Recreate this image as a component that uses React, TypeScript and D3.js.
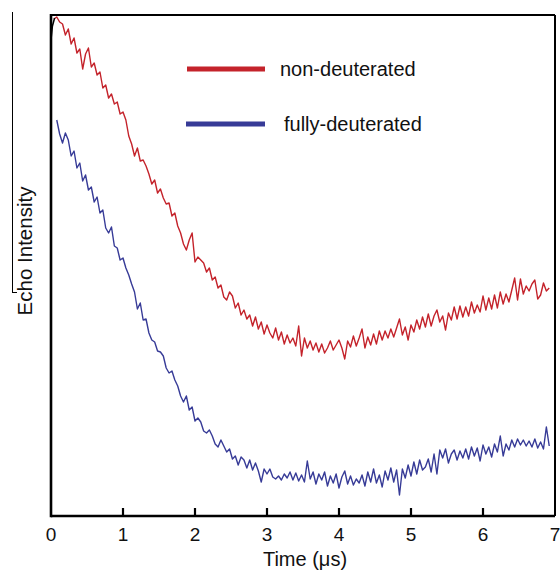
import React from "react";
import * as d3 from "d3";

// Sampling grid (μs)
const T_STEP = 0.04;
const RED_START_INDEX = 1; // t = 0.04
const BLUE_START_INDEX = 2; // t = 0.08

const xTicks = [0, 1, 2, 3, 4, 5, 6, 7];
const seriesNames = ["non-deuterated", "fully-deuterated"];

// Echo intensity (arbitrary units)
const nonDeuterated = [
  497, 499, 494, 492, 481, 487, 472, 478, 463, 467, 447, 462, 468, 449, 453, 441, 444, 428, 431, 418,
  422, 412, 414, 402, 404, 396, 380, 372, 360, 368, 355, 356, 350, 342, 332, 336, 323, 327, 318, 312,
  313, 300, 303, 290, 283, 272, 266, 276, 283, 254, 259, 256, 253, 244, 248, 236, 239, 228, 231, 219,
  216, 224, 220, 208, 213, 201, 206, 197, 201, 190, 199, 187, 194, 182, 191, 183, 178, 188, 176, 184,
  172, 181, 173, 178, 170, 190, 160, 178, 168, 175, 166, 173, 164, 172, 163, 168, 175, 166, 171, 176,
  168, 157, 175, 169, 180, 170, 178, 187, 168, 179, 171, 182, 172, 185, 176, 185, 178, 187, 179, 188,
  197, 181, 189, 176, 191, 184, 196, 187, 199, 189, 202, 190, 200, 206, 194, 200, 186, 203, 196, 209,
  197, 210, 199, 209, 200, 214, 203, 211, 204, 220, 206, 218, 207, 221, 208, 224, 212, 222, 214, 226,
  238, 216, 237, 222, 230, 225, 232, 236, 217, 221, 233, 225, 228,
];

const fullyDeuterated = [
  396, 382, 373, 383, 376, 360, 365, 348, 353, 335, 341, 326, 329, 314, 319, 303, 306, 288, 283, 289,
  270, 268, 256, 258, 248, 241, 232, 224, 207, 213, 196, 197, 183, 176, 174, 165, 164, 160, 148, 143,
  145, 136, 130, 120, 114, 120, 106, 109, 95, 98, 94, 85, 83, 86, 80, 72, 69, 76, 70, 64,
  67, 57, 60, 51, 59, 56, 48, 56, 46, 53, 45, 34, 47, 42, 47, 39, 37, 40, 36, 42,
  38, 44, 36, 43, 35, 41, 34, 55, 37, 44, 32, 42, 36, 44, 30, 40, 33, 42, 28, 39,
  45, 32, 40, 31, 37, 33, 41, 30, 44, 34, 47, 33, 41, 29, 45, 36, 48, 34, 46, 21,
  47, 38, 51, 40, 54, 42, 56, 46, 49, 57, 44, 62, 42, 66, 58, 67, 53, 62, 66, 56,
  65, 58, 67, 57, 69, 60, 68, 55, 71, 62, 69, 59, 72, 64, 80, 60, 72, 66, 76, 69,
  77, 71, 76, 70, 75, 69, 77, 68, 74, 67, 89, 70,
];

// small black fragment at the very start
const blackTraceT = [0.0, 0.02, 0.05];
const blackTraceV = [476, 490, 498];

const W = 560;
const H = 572;
const margin = { left: 51, right: 5, top: 15, bottom: 56 };

export default function App() {
  const x = d3.scaleLinear().domain([0, 7]).range([margin.left, W - margin.right]);
  const y = d3.scaleLinear().domain([0, 501]).range([H - margin.bottom, margin.top]);

  const toPts = (vals: number[], start: number) =>
    vals.map((v, i) => [(start + i) * T_STEP, v] as [number, number]);

  const line = d3
    .line<[number, number]>()
    .x((d) => x(d[0]))
    .y((d) => y(d[1]));

  const redPath = line(toPts(nonDeuterated, RED_START_INDEX)) || "";
  const bluePath = line(toPts(fullyDeuterated, BLUE_START_INDEX)) || "";
  const blackPath =
    line(blackTraceT.map((t, i) => [t, blackTraceV[i]] as [number, number])) || "";

  const x0 = x(0);
  const x1 = x(7);
  const yTop = y(501);
  const yBot = y(0);
  const font = "'Liberation Sans', Arial, Helvetica, sans-serif";
  const red = "#c4232b";
  const blue = "#373b97";

  return (
    <svg
      width={W}
      height={H}
      style={{ position: "absolute", left: 0, top: 0, background: "#fff" }}
      fontFamily={font}
    >
      <rect x={0} y={0} width={W} height={H} fill="#fff" />
      {/* stray left line */}
      <line x1={12.5} x2={12.5} y1={12} y2={292.5} stroke="#000" strokeWidth={1} />
      <line x1={12} x2={17} y1={292.5} y2={292.5} stroke="#000" strokeWidth={1} />

      {/* data */}
      <path d={redPath} fill="none" stroke={red} strokeWidth={1.4} strokeLinejoin="round" />
      <path d={bluePath} fill="none" stroke={blue} strokeWidth={1.4} strokeLinejoin="round" />
      <path d={blackPath} fill="none" stroke="#000" strokeWidth={1.5} />

      {/* frame */}
      <line x1={x0} x2={x1} y1={yTop} y2={yTop} stroke="#000" strokeWidth={2.2} />
      <line x1={x1} x2={x1} y1={yTop} y2={yBot} stroke="#000" strokeWidth={2} />
      <line x1={x0} x2={x0} y1={yTop - 1} y2={yBot + 1.3} stroke="#000" strokeWidth={2.6} />
      <line x1={x0} x2={x1} y1={yBot} y2={yBot} stroke="#000" strokeWidth={2.6} />

      {/* ticks */}
      {xTicks.map((t) => (
        <g key={t}>
          {t > 0 && t < 7 && (
            <line x1={x(t)} x2={x(t)} y1={yBot} y2={yBot - 8} stroke="#000" strokeWidth={2.2} />
          )}
          <text x={x(t)} y={541} textAnchor="middle" fontSize={19} fill="#111">
            {t}
          </text>
        </g>
      ))}

      {/* axis titles */}
      <text x={305} y={566} textAnchor="middle" fontSize={20} fill="#111">
        Time (μs)
      </text>
      <text
        transform={`translate(32, 251) rotate(-90)`}
        textAnchor="middle"
        fontSize={20.5}
        fill="#111"
      >
        Echo Intensity
      </text>

      {/* legend */}
      <line x1={187} x2={265} y1={69} y2={69} stroke={red} strokeWidth={5} />
      <text x={280} y={76} fontSize={20} fill="#111">
        {seriesNames[0]}
      </text>
      <line x1={186} x2={265} y1={124} y2={124} stroke={blue} strokeWidth={5} />
      <text x={284} y={131} fontSize={20} fill="#111">
        {seriesNames[1]}
      </text>
    </svg>
  );
}
